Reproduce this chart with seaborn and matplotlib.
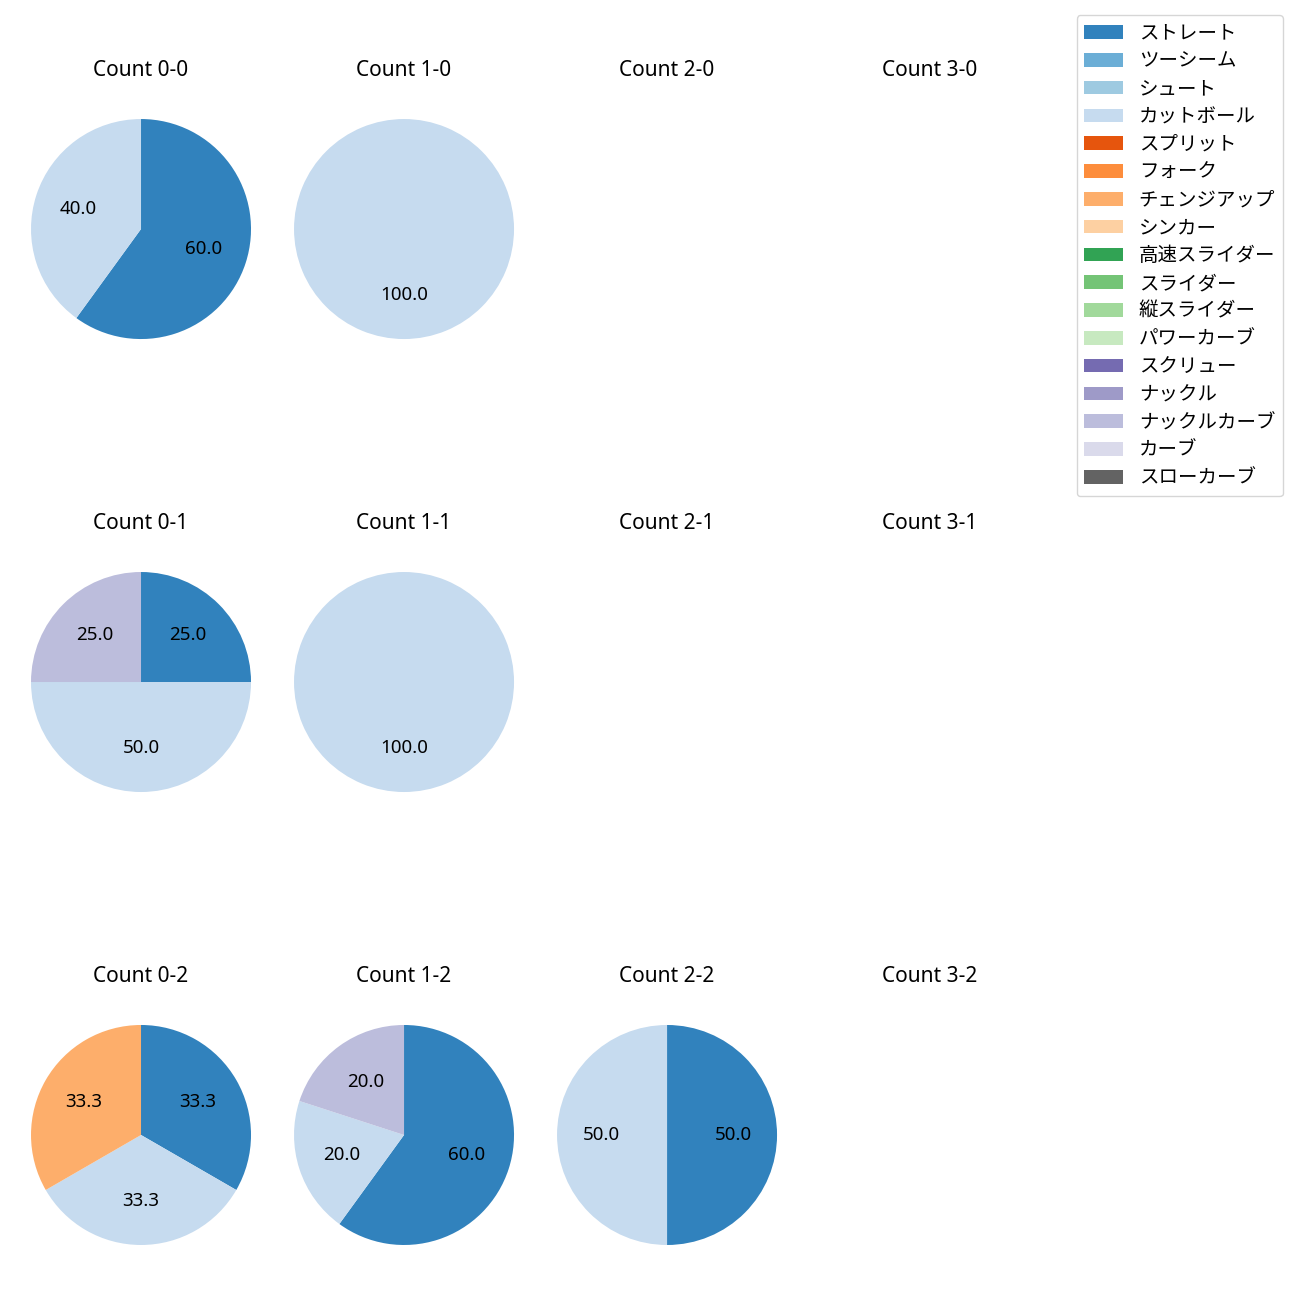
import matplotlib
matplotlib.use("Agg")
import matplotlib.pyplot as plt
from matplotlib.patches import Patch
import seaborn as sns

plt.rcParams['font.family'] = ['Noto Sans', 'Noto Sans CJK JP', 'DejaVu Sans']

pitch_types = ['ストレート', 'ツーシーム', 'シュート', 'カットボール', 'スプリット', 'フォーク',
               'チェンジアップ', 'シンカー', '高速スライダー', 'スライダー', '縦スライダー',
               'パワーカーブ', 'スクリュー', 'ナックル', 'ナックルカーブ', 'カーブ', 'スローカーブ']

# values per count (percent), only non-zero pitch types listed
count_0_0 = {'ストレート': 60.0, 'カットボール': 40.0}
count_1_0 = {'カットボール': 100.0}
count_2_0 = {}
count_3_0 = {}
count_0_1 = {'ストレート': 25.0, 'カットボール': 50.0, 'ナックルカーブ': 25.0}
count_1_1 = {'カットボール': 100.0}
count_2_1 = {}
count_3_1 = {}
count_0_2 = {'ストレート': 33.3, 'チェンジアップ': 33.3, 'カットボール': 33.3}
count_1_2 = {'ストレート': 60.0, 'カットボール': 20.0, 'ナックルカーブ': 20.0}
count_2_2 = {'ストレート': 50.0, 'カットボール': 50.0}
count_3_2 = {}

grid = [
    [('Count 0-0', count_0_0), ('Count 1-0', count_1_0), ('Count 2-0', count_2_0), ('Count 3-0', count_3_0)],
    [('Count 0-1', count_0_1), ('Count 1-1', count_1_1), ('Count 2-1', count_2_1), ('Count 3-1', count_3_1)],
    [('Count 0-2', count_0_2), ('Count 1-2', count_1_2), ('Count 2-2', count_2_2), ('Count 3-2', count_3_2)],
]

palette = sns.color_palette('tab20c', 20)
color_map = {p: palette[i] for i, p in enumerate(pitch_types)}

fig, axes = plt.subplots(3, 4, figsize=(13, 13), dpi=100)
fig.subplots_adjust(left=0.0027, right=0.8212, top=0.9296, bottom=0.02115,
                    wspace=-0.0436, hspace=0.647)

for r, row in enumerate(grid):
    for c, (title, data) in enumerate(row):
        ax = axes[r][c]
        labels = [p for p in pitch_types if data.get(p, 0) > 0]
        vals = [data[p] for p in labels]
        if vals:
            ax.pie(vals, colors=[color_map[p] for p in labels], startangle=90,
                   counterclock=False, autopct='%.1f',
                   textprops={'fontsize': 13.5})
        else:
            ax.set_aspect('equal')
            ax.axis('off')
        ax.set_title(title, fontsize=15, pad=11)

handles = [Patch(facecolor=color_map[p], label=p) for p in pitch_types]
fig.legend(handles=handles, loc='upper right',
           bbox_to_anchor=(1283 / 1300, 1 - 15 / 1300), borderaxespad=0,
           prop={'family': ['Noto Sans CJK JP'], 'size': 14}, labelspacing=0.35,
           handlelength=2.0, handletextpad=0.8)

fig.savefig('out.png', dpi=100)
